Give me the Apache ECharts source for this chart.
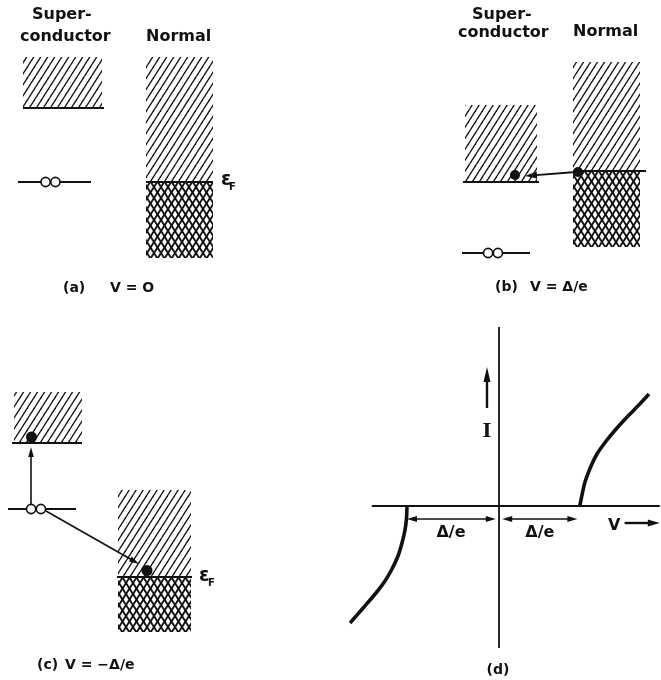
<!DOCTYPE html>
<html><head><meta charset="utf-8">
<script src="https://cdn.jsdelivr.net/npm/echarts@6/dist/echarts.min.js"></script>
<style>html,body{margin:0;padding:0;background:#fff}#c{width:661px;height:680px}</style>
</head><body><div id="c"></div>
<script>
// ================= DATA =================
// Band panels (a)-(c): x = position (arb. units), E = energy relative to the
// normal-metal Fermi level (arb. units, up = higher energy).
// bands: [x0, x1, E0, E1, occupied (1) / empty (0)]
const bandsA = [[23,102,74,125,0],[146,213,0,125,0],[146,213,-76,0,1]];
const levelsA = [[23,104,74],[18,91,0],[146,213,0]];          // [x0, x1, E]
const pairsA = [[50.5,0]];                                     // Cooper pair
const epsA = [[221,2,'ε']];
const subA = [[229,-5,'F']];

const bandsB = [[135,207,-11,66,0],[243,310,0,109,0],[243,310,-76,0,1]];
const levelsB = [[133,209,-11],[132,200,-82],[243,316,0]];
const pairsB = [[163,-82]];
const electronsB = [[185,-4],[248,-1]];
const arrowsB = [[246,-1,195,-5]];                              // [x0,E0,x1,E1]

const bandsC = [[14,82,134,185,0],[118,191,0,87,0],[118,191,-55,0,1]];
const levelsC = [[12,82,134],[8,76,68],[117,192,0]];
const pairsC = [[36,68]];
const electronsC = [[31.5,140],[147,6.5]];
const arrowsC = [[31,73,31,130],[46,66,139,13]];
const epsC = [[199,1,'ε']];
const subC = [[208,-6,'F']];

// Panel (d): V in units of Δ/e, I arbitrary units
const ivRight = [[1.01,0],[1.04,0.12],[1.075,0.24],[1.14,0.38],[1.225,0.52],[1.34,0.65],[1.475,0.78],[1.625,0.91],[1.76,1.02],[1.875,1.12]];
const ivLeft = [[-1.15,0],[-1.156,-0.12],[-1.175,-0.24],[-1.2125,-0.37],[-1.2625,-0.50],[-1.3375,-0.63],[-1.425,-0.75],[-1.5375,-0.87],[-1.6875,-1.01],[-1.8625,-1.17]];
const axisV = [[-1.59,0],[2.01,0]];
const axisI = [[0,-1.42],[0,1.79]];
const gapArrows = [[-1.15,-0.13,-0.04,-0.13],[0.04,-0.13,0.98,-0.13]];
const gapLabels = [[-0.60,-0.27,'Δ/e'],[0.51,-0.27,'Δ/e']];
const currentArrow = [[-0.15,0.98,-0.15,1.39]];
const currentLabel = [[-0.15,0.74,'I']];
const voltageArrow = [[1.57,-0.17,2.01,-0.17]];
const voltageLabel = [[1.44,-0.20,'V']];

// ================= STYLE / RENDER =================
const INK = '#111';
function makeHatch(cross){
  const w=7,h=11,c=document.createElement('canvas');c.width=w;c.height=h;
  const g=c.getContext('2d');g.strokeStyle=INK;g.lineWidth=cross?1.9:1.3;
  for(const dx of [-w,0,w]){g.beginPath();g.moveTo(dx-w,2*h);g.lineTo(dx+2*w,-h);g.stroke();}
  if(cross)for(const dx of [-w,0,w]){g.beginPath();g.moveTo(dx-w,-h);g.lineTo(dx+2*w,2*h);g.stroke();}
  return c;
}
const diagPat={type:'pattern',image:makeHatch(false),repeat:'repeat'};
const crossPat={type:'pattern',image:makeHatch(true),repeat:'repeat'};

function ax(i){return {xAxisIndex:i,yAxisIndex:i,silent:true};}
function bands(data,i){return Object.assign(ax(i),{type:'custom',data,z:1,
  renderItem:(p,api)=>{const a=api.coord([api.value(0),api.value(3)]),b=api.coord([api.value(1),api.value(2)]);
    return {type:'rect',shape:{x:a[0],y:a[1],width:b[0]-a[0],height:b[1]-a[1]},style:{fill:api.value(4)?crossPat:diagPat}};}});}
function levels(data,i,w){return Object.assign(ax(i),{type:'custom',data,z:3,
  renderItem:(p,api)=>{const a=api.coord([api.value(0),api.value(2)]),b=api.coord([api.value(1),api.value(2)]);
    return {type:'line',shape:{x1:a[0],y1:a[1],x2:b[0],y2:b[1]},style:{stroke:INK,lineWidth:w}};}});}
function pairs(data,i){return Object.assign(ax(i),{type:'custom',data,z:4,
  renderItem:(p,api)=>{const c=api.coord([api.value(0),api.value(1)]);
    return {type:'group',children:[-4.9,4.9].map(dx=>({type:'circle',shape:{cx:c[0]+dx,cy:c[1],r:4.6},style:{fill:'#fff',stroke:INK,lineWidth:1.7}}))};}});}
function head(from,tip,L,W){const dx=tip[0]-from[0],dy=tip[1]-from[1],len=Math.hypot(dx,dy),ux=dx/len,uy=dy/len;
  const bx=tip[0]-ux*L,by=tip[1]-uy*L;return {pts:[[tip[0],tip[1]],[bx-uy*W,by+ux*W],[bx+uy*W,by-ux*W]],base:[bx+ux*1,by+uy*1]};}
function arrows(data,i,o){return Object.assign(ax(i),{type:'custom',data,z:6,
  renderItem:(p,api)=>{let a=api.coord([api.value(0),api.value(1)]),b=api.coord([api.value(2),api.value(3)]);
    const h1=head(a,b,o.L,o.W);const ch=[];let s=a,e=h1.base;
    ch.push({type:'polygon',shape:{points:h1.pts},style:{fill:INK}});
    if(o.both){const h2=head(b,a,o.L,o.W);ch.push({type:'polygon',shape:{points:h2.pts},style:{fill:INK}});s=h2.base;}
    ch.push({type:'line',shape:{x1:s[0],y1:s[1],x2:e[0],y2:e[1]},style:{stroke:INK,lineWidth:o.w}});
    return {type:'group',children:ch};}});}
function dots(data,i,size){return Object.assign(ax(i),{type:'scatter',data,symbolSize:size,z:7,itemStyle:{color:INK,opacity:1}});}
function labels(data,i,font,align){return Object.assign(ax(i),{type:'scatter',z:8,symbolSize:0,itemStyle:{opacity:1,color:INK},
  data:data.map(d=>({value:[d[0],d[1]],name:d[2]})),
  label:{show:true,position:'inside',formatter:'{b}',color:INK,opacity:1,fontFamily:font.f,fontWeight:'bold',fontSize:font.s,align:align||'center',verticalAlign:'middle'}});}
function curve(data,w,smooth){return Object.assign(ax(3),{type:'line',data,showSymbol:false,smooth:smooth,z:5,lineStyle:{color:INK,width:w,opacity:1}});}

const DV='"DejaVu Sans"';
const hdr='bold 16px '+DV, cap='bold 14px '+DV;
function txt(t,x,y,font,align){return {type:'text',x,y,silent:true,style:{text:t,font,fill:INK,align:align||'left',verticalAlign:'middle'}};}

const chart=echarts.init(document.getElementById('c'));
chart.setOption({
  animation:false,backgroundColor:'#fff',
  grid:[{left:0,top:50,width:330,height:220},{left:330,top:50,width:331,height:220},
        {left:0,top:360,width:330,height:290},{left:340,top:320,width:321,height:335}],
  xAxis:[{gridIndex:0,type:'value',min:0,max:330,show:false},{gridIndex:1,type:'value',min:0,max:331,show:false},
         {gridIndex:2,type:'value',min:0,max:330,show:false},{gridIndex:3,type:'value',min:-1.9875,max:2.025,show:false}],
  yAxis:[{gridIndex:0,type:'value',min:-88,max:132,show:false},{gridIndex:1,type:'value',min:-99,max:121,show:false},
         {gridIndex:2,type:'value',min:-73,max:217,show:false},{gridIndex:3,type:'value',min:-1.49,max:1.86,show:false}],
  graphic:[
    txt('Super-',32,15,hdr),txt('conductor',20,37,hdr),txt('Normal',146,37,hdr),
    txt('Super-',472,15,hdr),txt('conductor',458,33,hdr),txt('Normal',573,32,hdr),
    txt('(a)',63,288,cap),txt('V = O',110,288,cap),
    txt('(b)',495,287,cap),txt('V = Δ/e',530,287,cap),
    txt('(c)',37,665,cap),txt('V = −Δ/e',65,665,cap),
    txt('(d)',498,670,cap,'center')
  ],
  series:[
    bands(bandsA,0),levels(levelsA,0,2),pairs(pairsA,0),
    labels(epsA,0,{f:'DejaVu Sans',s:19},'left'),labels(subA,0,{f:'DejaVu Sans',s:10},'left'),
    bands(bandsB,1),levels(levelsB,1,2),pairs(pairsB,1),dots(electronsB,1,10),arrows(arrowsB,1,{L:12,W:3.5,w:1.8}),
    bands(bandsC,2),levels(levelsC,2,2),pairs(pairsC,2),dots(electronsC,2,11),
    arrows(arrowsC,2,{L:10,W:2.8,w:1.6}),
    labels(epsC,2,{f:'DejaVu Sans',s:19},'left'),labels(subC,2,{f:'DejaVu Sans',s:10},'left'),
    curve(axisV,1.8,false),curve(axisI,1.8,false),
    curve(ivRight,3.6,0.25),curve(ivLeft,3.6,0.25),
    arrows(gapArrows,3,{L:10,W:3,w:1.5,both:true}),
    arrows(currentArrow,3,{L:15,W:3.5,w:2.4}),
    arrows(voltageArrow,3,{L:12,W:3.5,w:2.4}),
    labels(gapLabels,3,{f:'DejaVu Sans',s:16}),
    labels(currentLabel,3,{f:'DejaVu Serif',s:19}),
    labels(voltageLabel,3,{f:'DejaVu Sans',s:16})
  ]
});
</script></body></html>
